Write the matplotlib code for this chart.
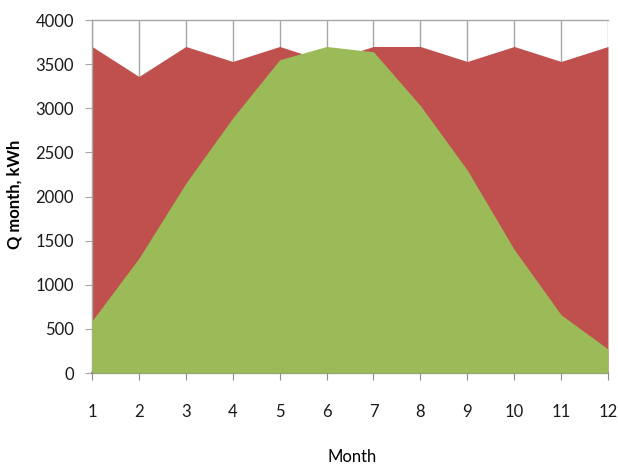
import numpy as np
import matplotlib.pyplot as plt

plt.rcParams['font.family'] = ['Lato', 'DejaVu Sans']

# Monthly values
months = [1, 2, 3, 4, 5, 6, 7, 8, 9, 10, 11, 12]
q_total = [3700, 3360, 3700, 3530, 3700, 3530, 3700, 3700, 3530, 3700, 3530, 3700]
q_solar = [590, 1300, 2150, 2890, 3550, 3700, 3640, 3030, 2300, 1400, 660, 272]

red = '#C0504D'
green = '#9BBB59'
grid_gray = '#A6A6A6'

fig = plt.figure(figsize=(6.18, 4.65), dpi=100)
ax = fig.add_axes([92 / 618, 1 - 373 / 465, (608 - 92) / 618, (373 - 20) / 465])

ax.fill_between(months, 0, q_total, color=red, linewidth=0, zorder=2)
ax.fill_between(months, 0, q_solar, color=green, linewidth=0, zorder=3)

ax.set_xlim(1, 12)
ax.set_ylim(0, 4000)
ax.set_xticks(months)
ax.set_yticks(np.arange(0, 4001, 500))

ax.grid(True, axis='x', color=grid_gray, linewidth=1.0, zorder=1)
ax.set_axisbelow(True)

for side in ['left', 'bottom', 'top']:
    ax.spines[side].set_color(grid_gray)
ax.spines['right'].set_visible(False)
ax.spines['bottom'].set_linewidth(1.6)
ax.spines['bottom'].set_color('#8C8C8C')
ax.spines['left'].set_linewidth(1.0)
ax.spines['top'].set_linewidth(1.0)

ax.tick_params(axis='y', direction='out', length=5, color=grid_gray,
               labelsize=12, pad=8, labelcolor='#1a1a1a')
ax.tick_params(axis='x', direction='out', length=5, color='#8C8C8C',
               labelsize=12, pad=17, labelcolor='#1a1a1a')

# axis titles placed in figure pixels
fig.text(15 / 618, 1 - 194 / 465, 'Q month, kWh', fontsize=12, fontweight='bold',
         rotation=90, ha='center', va='center')
fig.text(352 / 618, 1 - 457 / 465, 'Month', fontsize=12, ha='center', va='center')

fig.savefig('out.png', dpi=100)
